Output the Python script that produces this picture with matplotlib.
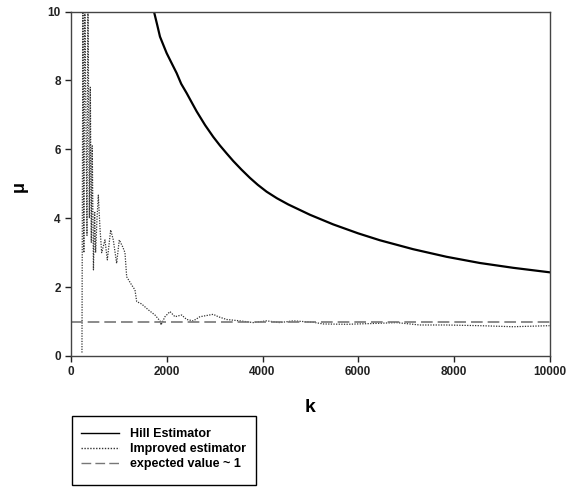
import numpy as np
import matplotlib
matplotlib.use("Agg")
import matplotlib.pyplot as plt
from matplotlib.patches import Rectangle

plt.rcParams['font.family'] = ['Liberation Sans', 'DejaVu Sans']
plt.rcParams['font.weight'] = 'bold'

# Hill estimator
hill_k = [1700, 1730, 1800, 1856, 1920, 1996, 2100, 2205, 2300, 2414, 2520,
          2623, 2800, 2970, 3110, 3250, 3388, 3560, 3737, 3900, 4085, 4300,
          4537, 4991, 5478, 6000, 6453, 7150, 7847, 8543, 9240, 10000]
hill_mu = [10.3, 10.0, 9.6, 9.27, 9.05, 8.79, 8.5, 8.21, 7.9, 7.63, 7.36,
           7.10, 6.70, 6.36, 6.11, 5.88, 5.66, 5.41, 5.17, 4.97, 4.77, 4.58,
           4.40, 4.10, 3.82, 3.56, 3.36, 3.10, 2.88, 2.70, 2.56, 2.43]

# Improved estimator
imp_k = [225, 245, 265, 285, 330, 350, 380, 400, 420, 440, 465, 490, 510,
         540, 567, 600, 637, 706, 755, 825, 880, 950, 1005, 1076, 1124, 1160,
         1264, 1333, 1369, 1473, 1612, 1751, 1856, 1877, 1960, 2065, 2169,
         2309, 2414, 2553, 2692, 2970, 3075, 3250, 3528, 3806, 4085, 4364,
         4643, 5060, 5270, 5757, 6453, 6800, 7290, 7847, 8543, 9240, 10000]
imp_mu = [0.1, 10.5, 3.0, 10.5, 3.5, 10.5, 4.0, 7.8, 3.3, 6.1, 2.5, 4.2, 3.0,
          4.0, 4.67, 3.75, 3.0, 3.37, 2.79, 3.66, 3.37, 2.69, 3.37, 3.17, 3.0,
          2.3, 2.06, 1.92, 1.58, 1.51, 1.34, 1.19, 1.02, 0.90, 1.14, 1.29,
          1.14, 1.19, 1.06, 1.02, 1.14, 1.21, 1.14, 1.06, 1.02, 0.97, 1.02,
          0.97, 1.02, 0.98, 0.93, 0.92, 0.95, 0.97, 0.90, 0.90, 0.88, 0.85,
          0.88]

# Expected value
exp_k = [0, 10000]
exp_mu = [1, 1]

W, H = 570, 487
fig = plt.figure(figsize=(W / 100, H / 100), dpi=100)
ax = fig.add_axes([71.2 / W, 1 - 356 / H, (549.5 - 71.2) / W, (356 - 11.5) / H])

h1, = ax.plot(hill_k, hill_mu, color="black", lw=1.6, label="Hill Estimator")
h2, = ax.plot(imp_k, imp_mu, color="#333333", lw=0.9, ls=(0, (1, 1.1)),
              label="Improved estimator")
h3, = ax.plot(exp_k, exp_mu, color="#777777", lw=1.2, ls=(0, (7, 3)),
              label="expected value ~ 1")

ax.set_xlim(0, 10000)
ax.set_ylim(0, 10)
ax.set_xticks([0, 2000, 4000, 6000, 8000, 10000])
ax.set_yticks([0, 2, 4, 6, 8, 10])
ax.tick_params(direction="out", length=4, width=1, labelsize=8.5,
               top=False, right=False, colors="#222222")
for s in ax.spines.values():
    s.set_linewidth(1)
    s.set_color("#444444")

fig.text(310 / W, 1 - 408 / H, "k", ha="center", va="center",
         fontsize=14, fontweight="bold")
fig.text(19 / W, 1 - 186 / H, "\u03bc", ha="center", va="center",
         rotation=90, fontsize=13, fontweight="bold")

# legend box drawn separately so the padding can match
fig.patches.append(Rectangle((72 / W, 1 - 485 / H), 184 / W, 69 / H,
                             transform=fig.transFigure, fill=False,
                             ec="black", lw=1))
leg = fig.legend(handles=[h1, h2, h3], loc="upper left",
                 bbox_to_anchor=(80.7 / W, 1 - 428 / H), fontsize=9,
                 frameon=False, borderpad=0, borderaxespad=0,
                 handlelength=3.1, labelspacing=0.25, handletextpad=0.86)
for line in leg.get_lines():
    line.set_linewidth(1)

fig.savefig("out.png", dpi=100)
